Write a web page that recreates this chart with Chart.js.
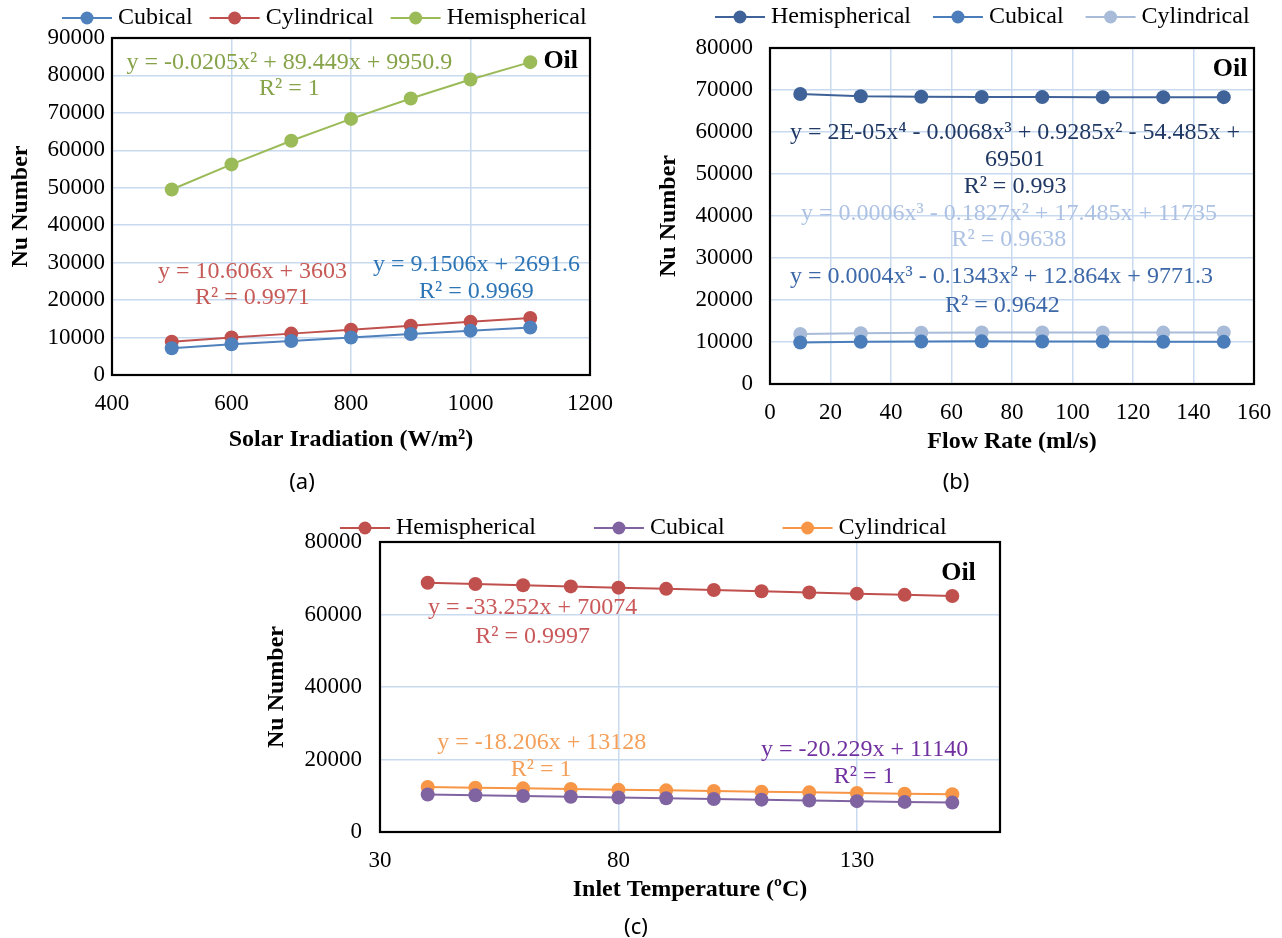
<!DOCTYPE html>
<html>
<head>
<meta charset="utf-8">
<script src="https://cdn.jsdelivr.net/npm/chart.js@4"></script>
<style>
  html, body { margin: 0; padding: 0; background: #fff; }
  #wrap { position: relative; width: 1282px; height: 938px; overflow: hidden; }
  #wrap canvas { position: absolute; left: 0; top: 0; }
  .cap { position: absolute; font: 22px "Noto Sans", sans-serif; color: #000; transform: translate(-50%, -50%); }
</style>
</head>
<body>
<div id="wrap">
  <canvas id="chartA" width="1282" height="938"></canvas>
  <canvas id="chartB" width="1282" height="938"></canvas>
  <canvas id="chartC" width="1282" height="938"></canvas>
  <div class="cap" style="left:302px;top:480px">(a)</div>
  <div class="cap" style="left:956px;top:480px">(b)</div>
  <div class="cap" style="left:636px;top:925px">(c)</div>
</div>
<script>
'use strict'

const serif = '"Liberation Serif", "Times New Roman", serif'
const gridColor = '#c8daf0'

// (a) solar irradiation
const irradiation = [500, 600, 700, 800, 900, 1000, 1100]
const irrCubical = [7150, 8200, 9100, 10000, 10950, 11850, 12700]
const irrCylindrical = [8900, 10000, 11050, 12100, 13150, 14200, 15250]
const irrHemispherical = [49550, 56250, 62550, 68400, 73850, 78900, 83550]
const irrTicksX = [400, 600, 800, 1000, 1200]
const irrTicksY = [0, 10000, 20000, 30000, 40000, 50000, 60000, 70000, 80000, 90000]

// (b) flow rate
const flowRate = [10, 30, 50, 70, 90, 110, 130, 150]
const flowHemispherical = [69050, 68500, 68380, 68330, 68310, 68300, 68300, 68300]
const flowCubical = [9890, 10050, 10120, 10150, 10130, 10100, 10060, 10030]
const flowCylindrical = [11890, 12110, 12230, 12270, 12270, 12250, 12240, 12270]
const flowTicksX = [0, 20, 40, 60, 80, 100, 120, 140, 160]
const flowTicksY = [0, 10000, 20000, 30000, 40000, 50000, 60000, 70000, 80000]

// (c) inlet temperature
const inletTemp = [40, 50, 60, 70, 80, 90, 100, 110, 120, 130, 140, 150]
const tempHemispherical = [68750, 68410, 68080, 67750, 67410, 67080, 66750, 66420, 66080, 65750, 65420, 65090]
const tempCubical = [10330, 10130, 9930, 9720, 9520, 9320, 9120, 8920, 8710, 8510, 8310, 8110]
const tempCylindrical = [12400, 12220, 12040, 11850, 11670, 11490, 11310, 11130, 10940, 10760, 10580, 10400]
const tempTicksX = [30, 80, 130]
const tempTicksY = [0, 20000, 40000, 60000, 80000]

const eqA = ['y = -0.0205x² + 89.449x + 9950.9', 'R² = 1',
  'y = 10.606x + 3603', 'R² = 0.9971', 'y = 9.1506x + 2691.6', 'R² = 0.9969']
const eqB = ['y = 2E-05x⁴ - 0.0068x³ + 0.9285x² - 54.485x +', '69501', 'R² = 0.993',
  'y = 0.0006x³ - 0.1827x² + 17.485x + 11735', 'R² = 0.9638',
  'y = 0.0004x³ - 0.1343x² + 12.864x + 9771.3', 'R² = 0.9642']
const eqC = ['y = -33.252x + 70074', 'R² = 0.9997',
  'y = -18.206x + 13128', 'R² = 1', 'y = -20.229x + 11140', 'R² = 1']

const pts = (xs, ys) => xs.map((x, i) => ({ x, y: ys[i] }))

const framePlugin = {
  id: 'frame',
  beforeDatasetsDraw(chart) {
    const { ctx, chartArea: a } = chart
    ctx.save()
    ctx.strokeStyle = '#000'
    ctx.lineWidth = 2.2
    ctx.strokeRect(a.left, a.top, a.right - a.left, a.bottom - a.top)
    ctx.restore()
  }
}

const legendPlugin = {
  id: 'lineLegend',
  afterDraw(chart, args, opts) {
    const ctx = chart.ctx
    let x = opts.x
    ctx.save()
    ctx.font = '24px ' + serif
    ctx.textBaseline = 'middle'
    chart.data.datasets.forEach(ds => {
      ctx.strokeStyle = ds.borderColor
      ctx.lineWidth = 2
      ctx.beginPath()
      ctx.moveTo(x, opts.y)
      ctx.lineTo(x + 50, opts.y)
      ctx.stroke()
      ctx.fillStyle = ds.backgroundColor
      ctx.beginPath()
      ctx.arc(x + 25, opts.y, 6.5, 0, Math.PI * 2)
      ctx.fill()
      ctx.fillStyle = '#000'
      ctx.fillText(ds.label, x + 56, opts.y)
      x += 56 + ctx.measureText(ds.label).width + opts.gap
    })
    ctx.restore()
  }
}

const notesPlugin = {
  id: 'notes',
  afterDatasetsDraw(chart, args, opts) {
    const { ctx, scales: { x, y } } = chart
    ctx.save()
    ctx.textAlign = 'center'
    ctx.textBaseline = 'middle'
    opts.items.forEach(n => {
      ctx.font = n.bold ? 'bold 26px ' + serif : '24px ' + serif
      ctx.fillStyle = n.color
      ctx.fillText(n.text, x.getPixelForValue(n.x), y.getPixelForValue(n.y))
    })
    ctx.restore()
  }
}

function makeChart(id, s) {
  const padLeft = s.nuX - 14
  const xH = s.xTitleY + 14 - s.box.b
  const font = size => ({ family: serif, size })

  return new Chart(document.getElementById(id), {
    type: 'line',
    data: {
      datasets: s.series.map(d => ({
        label: d.label,
        data: d.data,
        borderColor: d.color,
        backgroundColor: d.color,
        pointBackgroundColor: d.color,
        borderWidth: 2,
        pointRadius: 7,
        pointBorderWidth: 0,
        tension: 0,
        fill: false
      }))
    },
    options: {
      responsive: false,
      animation: false,
      layout: {
        padding: { left: padLeft, top: s.box.t, right: 1282 - s.box.r, bottom: 938 - s.box.b - xH }
      },
      scales: {
        x: {
          type: 'linear',
          min: s.xTicks[0],
          max: s.xMax,
          afterBuildTicks: sc => { sc.ticks = s.xTicks.map(value => ({ value })) },
          afterFit: sc => { sc.height = xH; sc.paddingLeft = 0; sc.paddingRight = 0 },
          grid: { color: gridColor, lineWidth: 1.5, drawTicks: false },
          border: { display: false },
          ticks: { padding: 15, color: '#000', font: font(23), callback: v => String(v) },
          title: { display: true, text: s.xTitle, color: '#000', padding: 0,
            font: { family: serif, size: 24, weight: 'bold' } }
        },
        y: {
          type: 'linear',
          min: 0,
          max: s.yTicks[s.yTicks.length - 1],
          afterBuildTicks: sc => { sc.ticks = s.yTicks.map(value => ({ value })) },
          afterFit: sc => { sc.width = s.box.l - padLeft; sc.paddingTop = 0; sc.paddingBottom = 0 },
          grid: { color: gridColor, lineWidth: 1.5, drawTicks: false },
          border: { display: false },
          ticks: { padding: s.yPad, color: '#000', font: font(23), callback: v => String(v) },
          title: { display: true, text: 'Nu Number', color: '#000', padding: 0,
            font: { family: serif, size: 24, weight: 'bold' } }
        }
      },
      plugins: {
        legend: { display: false },
        tooltip: { enabled: false },
        lineLegend: s.legend,
        notes: { items: s.notes }
      }
    },
    plugins: [framePlugin, legendPlugin, notesPlugin]
  })
}

makeChart('chartA', {
  box: { l: 112, r: 590, t: 38, b: 375 },
  nuX: 20,
  yPad: 7,
  xTitleY: 440,
  xTitle: 'Solar Iradiation (W/m²)',
  xTicks: irrTicksX,
  xMax: 1200,
  yTicks: irrTicksY,
  legend: { x: 62, y: 18, gap: 17 },
  series: [
    { label: 'Cubical', color: '#4f81bd', data: pts(irradiation, irrCubical) },
    { label: 'Cylindrical', color: '#c0504d', data: pts(irradiation, irrCylindrical) },
    { label: 'Hemispherical', color: '#9bbb59', data: pts(irradiation, irrHemispherical) }
  ],
  notes: [
    { text: eqA[0], x: 697, y: 83300, color: '#86a34a' },
    { text: eqA[1], x: 697, y: 76400, color: '#86a34a' },
    { text: eqA[2], x: 635, y: 27500, color: '#c65a57' },
    { text: eqA[3], x: 635, y: 20550, color: '#c65a57' },
    { text: eqA[4], x: 1010, y: 29400, color: '#2e75b6' },
    { text: eqA[5], x: 1010, y: 22150, color: '#2e75b6' },
    { text: 'Oil', x: 1151, y: 83900, color: '#000', bold: true }
  ]
})

makeChart('chartB', {
  box: { l: 770, r: 1254, t: 48, b: 384 },
  nuX: 668,
  yPad: 17,
  xTitleY: 442,
  xTitle: 'Flow Rate (ml/s)',
  xTicks: flowTicksX,
  xMax: 160,
  yTicks: flowTicksY,
  legend: { x: 715, y: 17, gap: 22 },
  series: [
    { label: 'Hemispherical', color: '#3f6398', data: pts(flowRate, flowHemispherical) },
    { label: 'Cubical', color: '#4a7dba', data: pts(flowRate, flowCubical) },
    { label: 'Cylindrical', color: '#a8bbd9', data: pts(flowRate, flowCylindrical) }
  ],
  notes: [
    { text: eqB[0], x: 81, y: 59760, color: '#203864' },
    { text: eqB[1], x: 81, y: 53330, color: '#203864' },
    { text: eqB[2], x: 81, y: 46900, color: '#203864' },
    { text: eqB[3], x: 79, y: 40480, color: '#adc2e3' },
    { text: eqB[4], x: 79, y: 34290, color: '#adc2e3' },
    { text: eqB[5], x: 76.5, y: 25480, color: '#3d68a8' },
    { text: eqB[6], x: 76.8, y: 18570, color: '#3d68a8' },
    { text: 'Oil', x: 152.1, y: 75000, color: '#000', bold: true }
  ]
})

makeChart('chartC', {
  box: { l: 380, r: 1000, t: 542, b: 832 },
  nuX: 276,
  yPad: 18,
  xTitleY: 890,
  xTitle: 'Inlet Temperature (ºC)',
  xTicks: tempTicksX,
  xMax: 160,
  yTicks: tempTicksY,
  legend: { x: 340, y: 528, gap: 58 },
  series: [
    { label: 'Hemispherical', color: '#c0504d', data: pts(inletTemp, tempHemispherical) },
    { label: 'Cubical', color: '#8064a2', data: pts(inletTemp, tempCubical) },
    { label: 'Cylindrical', color: '#f79646', data: pts(inletTemp, tempCylindrical) }
  ],
  notes: [
    { text: eqC[0], x: 62, y: 61800, color: '#c9595a' },
    { text: eqC[1], x: 62, y: 53800, color: '#c9595a' },
    { text: eqC[2], x: 63.9, y: 24550, color: '#f4a05a' },
    { text: eqC[3], x: 63.8, y: 17100, color: '#f4a05a' },
    { text: eqC[4], x: 131.6, y: 22620, color: '#7030a0' },
    { text: eqC[5], x: 131.5, y: 15170, color: '#7030a0' },
    { text: 'Oil', x: 151.3, y: 71450, color: '#000', bold: true }
  ]
})
</script>
</body>
</html>
